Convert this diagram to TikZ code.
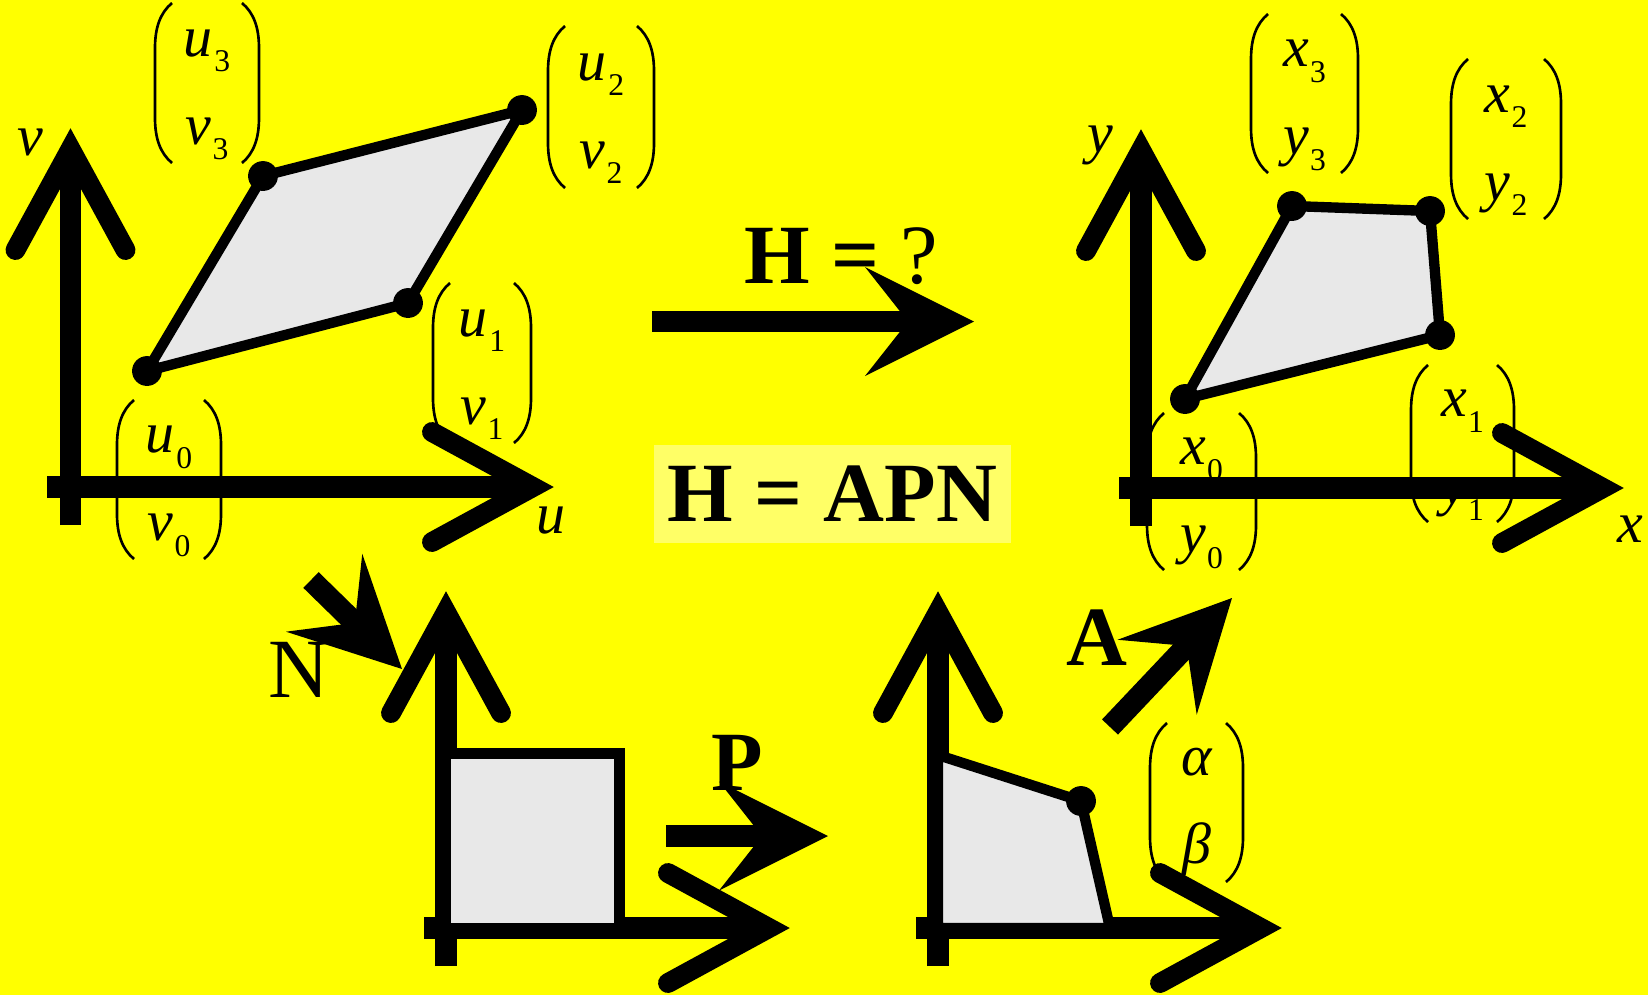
\documentclass[tikz,border=0pt]{standalone}
\usepackage{fontspec}
\setmainfont{Liberation Serif}
\usetikzlibrary{calc}
\definecolor{bgY}{HTML}{FFFF00}
\definecolor{boxY}{HTML}{FFFF66}
\definecolor{polyG}{HTML}{E8E8E8}
\newcommand\sbl[2]{{\itshape #1}\kern0.8pt\raisebox{-9pt}{\fontsize{18}{18}\selectfont #2}}
\tikzset{
  axisline/.style={line width=12.5pt},
  chev/.style={line width=11.3pt, line cap=round, line join=miter, miter limit=10},
  poly/.style={draw=black, fill=polyG, line width=5.9pt, line join=miter},
  dotn/.style={circle, fill=black, inner sep=0pt, minimum size=17pt},
  shaft/.style={line width=12.5pt},
  ml/.style={font=\fontsize{33}{33}\selectfont, inner sep=0pt, anchor=base},
  axl/.style={font=\fontsize{33}{33}\selectfont\itshape, inner sep=0pt, anchor=base},
  bigl/.style={font=\fontsize{48}{48}\selectfont, inner sep=0pt, anchor=base},
  paren/.style={line width=1.5pt},
  ahead/.pic={\fill (0,0) -- (-109,54.5) -- (-66,0) -- (-109,-54.5) -- cycle;}
}
% name, L, R, T, B, top, bottom
\newcommand\pmat[7]{%
  \node[ml] (#1a) at ({(#2+#3)/2},{(#4+#5)/2-27}) {#6};
  \node[ml] (#1b) at ({(#2+#3)/2},{(#4+#5)/2+61}) {#7};
  \draw[paren] ({#2+17},#4) .. controls ({#2+5},{#4+10}) and (#2,{#4+25}) .. (#2,{#4+45})
     -- (#2,{#5-45}) .. controls (#2,{#5-25}) and ({#2+5},{#5-10}) .. ({#2+17},#5);
  \draw[paren] ({#3-17},#4) .. controls ({#3-5},{#4+10}) and (#3,{#4+25}) .. (#3,{#4+45})
     -- (#3,{#5-45}) .. controls (#3,{#5-25}) and ({#3-5},{#5-10}) .. ({#3-17},#5);
}
% vertical axis: x, bottom, tip
\newcommand\vax[3]{%
  \draw[axisline] (#1,#2) -- (#1,{#3+29});
  \draw[chev] ({#1-55},{#3+122}) -- (#1,{#3+21}) -- ({#1+55},{#3+122});
}
% horizontal axis: y, left, tip
\newcommand\hax[3]{%
  \draw[axisline] (#2,#1) -- ({#3-29},#1);
  \draw[chev] ({#3-122},{#1-55}) -- ({#3-21},#1) -- ({#3-122},{#1+55});
}
\begin{document}
\begin{tikzpicture}[x=0.02cm,y=-0.02cm]
\useasboundingbox (0,0) rectangle (1648,995);
\fill[bgY] (0,0) rectangle (1648,995);

% ---- labels (under the axes)
\pmat{mt}{155}{259}{3}{163}{\sbl{u}{3}}{\sbl{v}{3}}
\pmat{mr}{548}{654}{26}{188}{\sbl{u}{2}}{\sbl{v}{2}}
\pmat{mo}{433}{531}{283}{443}{\sbl{u}{1}}{\sbl{v}{1}}
\pmat{mz}{117}{221}{400}{559}{\sbl{u}{0}}{\sbl{v}{0}}
\pmat{nt}{1251}{1358}{14}{173}{\sbl{x}{3}}{\sbl{y}{3}}
\pmat{nr}{1451}{1561}{59}{219}{\sbl{x}{2}}{\sbl{y}{2}}
\pmat{no}{1411}{1514}{365}{522}{\sbl{x}{1}}{\sbl{y}{1}}
\pmat{nz}{1147}{1256}{413}{570}{\sbl{x}{0}}{\sbl{y}{0}}
\pmat{ab}{1150}{1243}{723}{882}{\itshape α}{\itshape β}

\node[axl] (lv) at (30,155) {v};
\node[axl] (lu) at (551,533) {u};
\node[axl] (ly) at (1100,152) {y};
\node[axl] (lx) at (1630,542) {x};

% ---- axes
\vax{70.5}{525}{128}
\hax{487}{47}{554}
\vax{1141}{526}{129}
\hax{488}{1119}{1624}
\vax{446}{966}{591}
\hax{928}{424}{790}
\vax{938}{966}{591}
\hax{928}{916}{1282}

% ---- polygons
\coordinate (p0) at (147,371);
\coordinate (p1) at (408,303);
\coordinate (p2) at (522,110);
\coordinate (p3) at (263,176);
\draw[poly] (p0) -- (p1) -- (p2) -- (p3) -- cycle;
\foreach \p in {p0,p1,p2,p3} \node[dotn] (d\p) at (\p) {};

\coordinate (q0) at (1185,399);
\coordinate (q1) at (1440,335);
\coordinate (q2) at (1430,211);
\coordinate (q3) at (1292,206);
\draw[poly] (q0) -- (q1) -- (q2) -- (q3) -- cycle;
\foreach \p in {q0,q1,q2,q3} \node[dotn] (d\p) at (\p) {};

\coordinate (s0) at (446,928);
\coordinate (s1) at (446,753.5);
\coordinate (s2) at (619.5,753.5);
\coordinate (s3) at (619.5,928);
\draw[poly] (s0) -- (s1) -- (s2) -- (s3) -- cycle;

\coordinate (r0) at (938,928);
\coordinate (r1) at (938,755);
\coordinate (r2) at (1081,801);
\coordinate (r3) at (1110,928);
\draw[poly] (r0) -- (r1) -- (r2) -- (r3) -- cycle;
\node[dotn] (dr2) at (r2) {};

% ---- texts
\node[bigl] (hq) at (841,283) {\textbf{H =} ?};
\node[font=\fontsize{48}{48}\selectfont, fill=boxY, inner sep=0pt,
      minimum width=203.6pt, minimum height=55.6pt] (apn) at (832.5,494) {\textbf{H = APN}};
\node[bigl] (nl) at (299,697) {N};
\node[bigl] (pl) at (737,790) {\textbf{P}};
\node[bigl] (al) at (1097,665) {\textbf{A}};

% ---- arrows
\coordinate (hs) at (652,321.5);
\coordinate (ht) at (974,321.5);
\draw[shaft] (hs) -- ($(ht)!34pt!(hs)$);
\pic at (ht) {ahead};

\coordinate (ns) at (311,580);
\coordinate (ntp) at (402,669);
\draw[shaft] (ns) -- ($(ntp)!34pt!(ns)$);
\pic[rotate=-44.4] at (ntp) {ahead};

\coordinate (ps) at (666,836);
\coordinate (ptp) at (828,836);
\draw[shaft] (ps) -- ($(ptp)!34pt!(ps)$);
\pic at (ptp) {ahead};

\coordinate (as) at (1110,727);
\coordinate (atp) at (1232,598);
\draw[shaft] (as) -- ($(atp)!34pt!(as)$);
\pic[rotate=46.6] at (atp) {ahead};
\end{tikzpicture}
\end{document}
